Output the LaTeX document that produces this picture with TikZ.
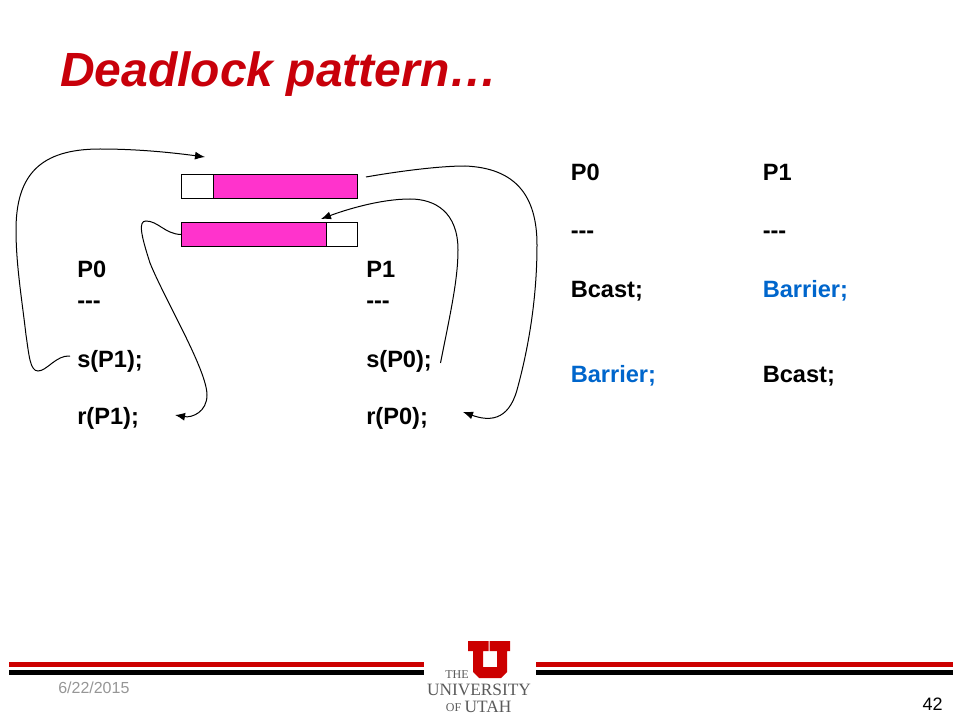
\documentclass[tikz,border=0pt]{standalone}
\usepackage{fontspec}
\setmainfont{Liberation Sans}
\newfontfamily\logofont{Liberation Serif}
\definecolor{titlered}{RGB}{200,0,10}
\definecolor{barpink}{RGB}{255,51,204}
\definecolor{callblue}{RGB}{0,102,204}
\definecolor{utahred}{RGB}{204,0,0}
\definecolor{footgray}{RGB}{150,150,150}
\definecolor{logogray}{RGB}{90,90,90}
\usetikzlibrary{arrows.meta}
\tikzset{
  code node/.style={anchor=base west,inner sep=0pt,font=\fontsize{17.7pt}{20pt}\selectfont\bfseries},
  seg node/.style={draw,anchor=north west,inner sep=0pt,minimum height=18pt,line width=0.75pt},
  logo node/.style={anchor=base,inner sep=0pt,text=logogray},
  link/.style={line width=0.75pt},
  linkto/.style={link,-{Latex[length=7.5pt,width=6pt]}},
}
\begin{document}
\begin{tikzpicture}[x=0.75pt,y=-0.75pt]
\useasboundingbox (0,0) rectangle (960,720);
\node[anchor=base west,inner sep=0pt,text=titlered,font=\fontsize{36pt}{40pt}\selectfont\bfseries\itshape] (title) at (60,87) {Deadlock pattern…};
% buffers
\begin{scope}
\node[seg node,minimum width=24pt,fill=white] (b1) at (181,174) {};
\node[seg node,minimum width=108pt,fill=barpink] (b2) at (213,174) {};
\node[seg node,minimum width=108.75pt,fill=barpink] (b3) at (181,222) {};
\node[seg node,minimum width=23.25pt,fill=white] (b4) at (326,222) {};
\end{scope}
% programs
\begin{scope}[every node/.style={code node}]
\node (p0) at (77,278) {P0};
\node (d0) at (77,308) {-{}-{}-};
\node (s0) at (77,367) {s(P1);};
\node (r0) at (77,424) {r(P1);};
\node (p1) at (366,278) {P1};
\node (d1) at (366,308) {-{}-{}-};
\node (s1) at (366,367) {s(P0);};
\node (r1) at (366,424) {r(P0);};
\node (q0) at (570.5,181) {P0};
\node (e0) at (570.5,239) {-{}-{}-};
\node (c0) at (570.5,297) {Bcast;};
\node[text=callblue] (k0) at (570.5,382) {Barrier;};
\node (q1) at (762.5,181) {P1};
\node (e1) at (762.5,239) {-{}-{}-};
\node[text=callblue] (c1) at (762.5,297) {Barrier;};
\node (k1) at (762.5,382) {Bcast;};
\end{scope}
% free ends
\coordinate (f1) at (70,356);
\coordinate (t1) at (205,157);
\coordinate (t2) at (175,415);
\coordinate (t3) at (321,219);
\coordinate (t4) at (463,412);
\coordinate (f3) at (440.5,363);
\coordinate (f4) at (366,177);
\draw[linkto] (f1) .. controls (56,355) and (47,371) .. (38,371)
  .. controls (30,371) and (29,355) .. (26,335)
  .. controls (22,300) and (16,265) .. (16,230)
  .. controls (16,175) and (40,149) .. (100,149)
  .. controls (140,149) and (175,153) .. (t1);
\draw[linkto] (b3.west) .. controls (165,234) and (158,221) .. (146,221)
  .. controls (138,221) and (141,235) .. (150,263)
  .. controls (165,300) and (207,370) .. (207,395)
  .. controls (207,412) and (192,418) .. (t2);
\draw[linkto] (f3) .. controls (450,315) and (458,280) .. (458,250)
  .. controls (458,212) and (435,199) .. (410,199)
  .. controls (380,199) and (345,210) .. (t3);
\draw[linkto] (f4) .. controls (400,171) and (440,166) .. (465,166)
  .. controls (515,168) and (537,195) .. (537,245)
  .. controls (537,300) and (528,350) .. (517,390)
  .. controls (508,422) and (488,421) .. (t4);
% footer
\fill[utahred] (9,661.5) rectangle (424,667);
\fill[black] (9,670) rectangle (424,675);
\fill[utahred] (536,661.5) rectangle (953,667);
\fill[black] (536,670) rectangle (953,675);
\fill[utahred] (468,641) -- (488.5,641) -- (488.5,651) -- (483,651) -- (483,667) -- (497,667) -- (497,651) -- (489.5,651) -- (489.5,641) -- (510,641) -- (510,651) -- (507,651) -- (507,672) -- (501,678) -- (479,678) -- (473,672) -- (473,651) -- (468,651) -- cycle;
\node[logo node,font=\logofont\fontsize{9pt}{10pt}\selectfont] (the) at (457,678.5) {THE};
\node[logo node,font=\logofont\fontsize{13pt}{14pt}\selectfont] (univ) at (479,695.5) {UNIVERSITY};
\node[logo node,font=\logofont\fontsize{9pt}{10pt}\selectfont] (of) at (453.5,711) {OF};
\node[logo node,font=\logofont\fontsize{13pt}{14pt}\selectfont] (utah) at (488,712) {UTAH};
\node[anchor=base west,inner sep=0pt,text=footgray,font=\fontsize{12pt}{14pt}\selectfont] (date) at (58,693) {6/22/2015};
\node[anchor=base east,inner sep=0pt,font=\fontsize{13.5pt}{15pt}\selectfont] (page) at (943,710) {42};
\end{tikzpicture}
\end{document}
